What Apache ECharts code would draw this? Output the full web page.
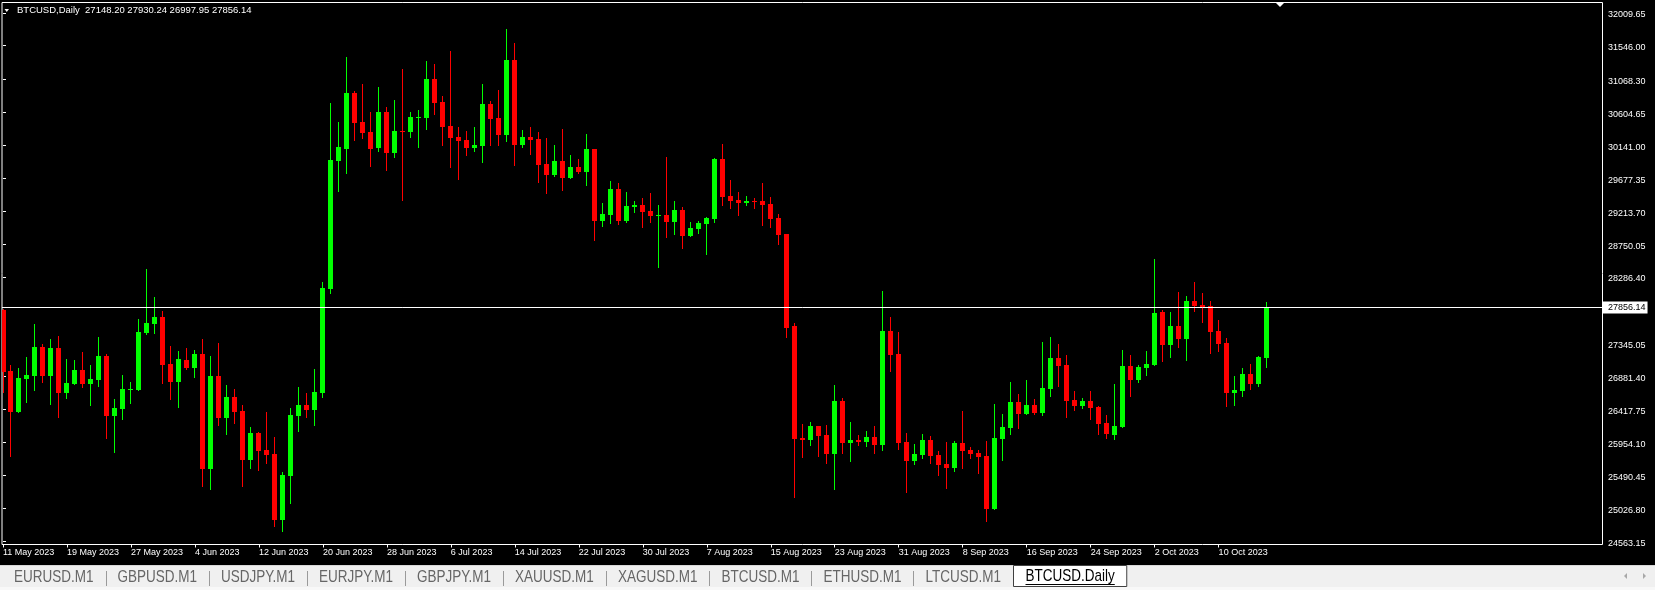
<!DOCTYPE html>
<html><head><meta charset="utf-8">
<script src="https://cdn.jsdelivr.net/npm/echarts@6.0.0/dist/echarts.min.js"></script>
<style>html,body{margin:0;padding:0;background:#000;}#chart{width:1655px;height:590px;}</style>
</head><body><div id="chart"></div>
<script>
const symbolName = 'BTCUSD,Daily';
const startDate = [2023, 4, 11]; // 11 May 2023 (month 0-based)
const monthNames = ['Jan','Feb','Mar','Apr','May','Jun','Jul','Aug','Sep','Oct','Nov','Dec'];

const opens = [27818,26958,26385,26850,26893,27297,26893,27283,26653,26775,
26972,26780,26836,27170,26329,26427,26695,26690,27499,27625,
27719,27057,26808,27113,27005,27198,25582,26888,26300,26592,
26395,25704,26084,25845,25788,24858,25478,26324,26479,26409,
26653,28114,29918,30087,30877,30468,30327,30101,30609,30031,
30346,30327,30529,30529,31074,30750,30412,30257,30214,30102,
30130,30722,30524,30285,31342,30144,30257,30228,29876,29721,
29918,29679,29834,29763,30087,29073,29157,29524,29073,29270,
29298,29214,29143,29157,29058,29228,28861,28960,29030,29101,
29946,29425,29369,29326,29354,29354,29312,29115,28889,27593,
26014,25986,26183,26056,25788,26535,25943,25986,25958,26028,
25915,27522,27198,25958,25690,25774,25986,25774,25647,25591,
25943,25845,25803,25760,25013,26000,26155,26521,26352,26479,
26366,26705,27142,27043,26550,26465,26535,26451,26225,26060,
26169,27029,26831,27001,27043,27790,27325,27593,27409,27945,
27888,27874,27522,27353,26648,26676,26916,26775,27148.20];

const highs = [27828,27043,27005,27160,27621,27339,27409,27452,27128,27113,
27226,27043,27438,27198,26564,26902,26803,27691,28405,28006,
27809,27311,27240,27287,27254,27409,27174,27353,26761,26714,
26479,26169,26103,26380,26028,25535,26437,26733,26648,26987,
28213,30736,30468,31384,30905,31004,30609,30961,30679,30778,
31215,30609,30637,31337,31285,30834,31469,30397,30341,30397,
31004,30764,30919,31779,31581,30355,30397,30327,30242,30144,
30369,30003,29946,30299,30090,29326,29636,29608,29481,29354,
29397,29467,29298,29975,29354,29270,29058,29073,29129,29961,
30158,29650,29481,29425,29397,29608,29411,29171,28895,27635,
26211,26239,26190,26197,26761,26578,26239,26056,26113,26183,
28086,27719,27508,26084,25929,26070,26042,25831,25958,25972,
26395,25887,25845,25972,26493,26352,26803,26634,26831,26564,
27367,27438,27339,27184,26676,26578,26676,26465,26338,26775,
27254,27184,27043,27240,28537,27818,27790,28072,28015,28213,
28058,27945,27677,27423,26888,27001,27057,27170,27930.24];

const lows = [26644,25751,26376,26512,26681,26794,26479,26301,26568,26761,
26723,26470,26738,26000,25807,26272,26493,26686,27466,27484,
26775,26554,26442,26982,26864,25328,25290,26188,26056,26216,
25328,25577,25549,25647,24760,24689,25084,26098,26296,26183,
26578,28044,29481,29735,30200,30228,29834,30045,29777,29960,
29354,30242,30101,30355,30567,30130,29824,29650,29989,30045,
29890,30130,30130,30186,29852,30102,30003,29608,29453,29693,
29495,29665,29735,29566,28791,28988,29030,29016,29044,29185,
28974,29044,28410,28833,28875,28678,28855,28889,28593,29044,
29284,29242,29143,29284,29242,29002,28974,28734,27423,25168,
25732,25901,25746,25648,25281,25788,25676,25901,25887,25788,
25831,26944,25845,25239,25633,25718,25647,25478,25295,25535,
25577,25718,25507,24830,24999,25690,26056,26141,26345,26345,
26324,26592,26733,26296,26394,26423,26268,26056,26000,25990,
26155,26592,26789,26888,27029,27085,27142,27283,27099,27790,
27635,27198,27226,26451,26465,26592,26690,26733,26997.95];

const closes = [26949,26385,26860,26902,27297,26893,27283,26653,26789,26972,
26780,26846,27170,26329,26437,26705,26705,27508,27635,27719,
27043,26808,27128,27001,27198,25582,26888,26300,26592,26385,
25704,26084,25831,25774,24858,25492,26338,26479,26409,26662,
28128,29932,30116,30877,30454,30313,30087,30609,30031,30341,
30332,30538,30538,31074,30740,30397,30242,30200,30102,30144,
30722,30510,30285,31342,30144,30257,30214,29862,29721,29918,
29679,29834,29763,30087,29073,29171,29524,29073,29284,29298,
29199,29143,29157,29058,29228,28861,28974,29044,29115,29946,
29411,29354,29326,29354,29340,29298,29101,28875,27564,25999,
25986,26183,26042,25788,26535,25943,25986,25958,26028,25915,
27522,27184,25943,25690,25788,25986,25760,25633,25591,25943,
25831,25788,25746,25013,26014,26169,26521,26352,26479,26366,
26719,27142,27029,26535,26465,26535,26437,26211,26070,26183,
27029,26831,27015,27057,27776,27325,27593,27409,27945,27874,
27860,27508,27339,26648,26690,26916,26775,27156,27856.14];

const priceTicks = [32009.65,31546.00,31068.30,30604.65,30141.00,29677.35,29213.70,28750.05,
28286.40,27345.05,26881.40,26417.75,25954.10,25490.45,25026.80,24563.15];
const dateLabelEvery = 8;

const tabNames = ['EURUSD.M1','GBPUSD.M1','USDJPY.M1','EURJPY.M1','GBPJPY.M1','XAUUSD.M1','XAGUSD.M1','BTCUSD.M1','ETHUSD.M1','LTCUSD.M1'];
const activeTab = 'BTCUSD.Daily';

// ---- derived ----
const dates = opens.map((_, i) => {
  const d = new Date(Date.UTC(startDate[0], startDate[1], startDate[2] + i));
  return d.getUTCDate() + ' ' + monthNames[d.getUTCMonth()] + ' ' + d.getUTCFullYear();
});
const labelIdx = [];
for (let i = 0; i < dates.length; i += dateLabelEvery) labelIdx.push(i);
const candleData = opens.map((o, i) => [i, o, highs[i], lows[i], closes[i]]);
const last = opens.length - 1;
const lastPrice = closes[last];
const titleText = symbolName + '  ' + [opens[last], highs[last], lows[last], closes[last]].map(v => v.toFixed(2)).join(' ');

const UP = '#00ff00', DOWN = '#ff0000';
function renderCandle(params, api) {
  const i = api.value(0), o = api.value(1), h = api.value(2), l = api.value(3), c = api.value(4);
  const pO = api.coord([i, o]), pC = api.coord([i, c]), pH = api.coord([i, h]), pL = api.coord([i, l]);
  const col = c >= o ? UP : DOWN;
  let top = Math.round(Math.min(pO[1], pC[1])), bot = Math.round(Math.max(pO[1], pC[1]));
  if (bot - top < 1) bot = top + 1;
  const wt = Math.min(Math.round(pH[1]), top), wb = Math.max(Math.round(pL[1]), bot);
  const xl = Math.round(pO[0] - 0.5);
  return { type: 'group', children: [
    { type: 'rect', shape: { x: xl, y: wt, width: 1, height: wb - wt }, style: { fill: col } },
    { type: 'rect', shape: { x: xl - 2, y: top, width: 5, height: bot - top }, style: { fill: col } }
  ]};
}

// tabs layout
const tabFont = '13.5px "Liberation Sans"';
const mctx = document.createElement('canvas').getContext('2d');
mctx.font = tabFont;
const tabPad = 24;
const graphics = [];
graphics.push({ type: 'rect', silent: true, shape: { x: 0, y: 566, width: 1655, height: 24 }, style: { fill: '#f0f0f0' } });
graphics.push({ type: 'rect', silent: true, shape: { x: 0, y: 565, width: 1655, height: 1 }, style: { fill: '#d8d8d8' } });
graphics.push({ type: 'rect', silent: true, shape: { x: 0, y: 587, width: 1655, height: 3 }, style: { fill: '#f8f8f8' } });
let tx = 2;
tabNames.forEach((name, k) => {
  const w = mctx.measureText(name).width;
  graphics.push({ type: 'text', silent: true, x: tx + 12, y: 577.5, scaleY: 1.18, style: { text: name, fill: '#666666', font: tabFont, verticalAlign: 'middle', align: 'left' } });
  tx += w + tabPad;
  if (k < tabNames.length - 1) {
    const sx = Math.round(tx) + 0.5;
    graphics.push({ type: 'line', silent: true, shape: { x1: sx, y1: 571, x2: sx, y2: 586 }, style: { stroke: '#9a9a9a', lineWidth: 1 } });
  }
});
const aw = mctx.measureText(activeTab).width;
const ax = Math.round(tx) + 0.5;
graphics.push({ type: 'rect', silent: true, shape: { x: ax, y: 565.5, width: aw + 24, height: 21 }, style: { fill: '#ffffff', stroke: '#404040', lineWidth: 1 } });
graphics.push({ type: 'text', silent: true, x: ax + 12, y: 577, scaleY: 1.18, style: { text: activeTab, fill: '#000', font: tabFont, verticalAlign: 'middle', align: 'left' } });
graphics.push({ type: 'line', silent: true, shape: { x1: ax + 12, y1: 584.5, x2: ax + 12 + aw, y2: 584.5 }, style: { stroke: '#000', lineWidth: 1 } });
// scroll arrows
graphics.push({ type: 'polygon', silent: true, shape: { points: [[1627, 573], [1627, 579], [1624, 576]] }, style: { fill: '#a8a8a8' } });
graphics.push({ type: 'polygon', silent: true, shape: { points: [[1643, 573], [1643, 579], [1646, 576]] }, style: { fill: '#a8a8a8' } });
// title
graphics.push({ type: 'polygon', silent: true, shape: { points: [[4.5, 9], [9, 9], [6.75, 12]] }, style: { fill: '#ffffff' } });
graphics.push({ type: 'text', silent: true, x: 17, y: 10.5, style: { text: titleText, fill: '#ffffff', font: '9.5px "Liberation Sans"', verticalAlign: 'middle', align: 'left' } });
// chart shift marker
graphics.push({ type: 'polygon', silent: true, shape: { points: [[1275.5, 2.5], [1284.5, 2.5], [1280, 7]] }, style: { fill: '#ffffff' } });

const chart = echarts.init(document.getElementById('chart'), null, { renderer: 'canvas' });
chart.setOption({
  backgroundColor: '#000',
  animation: false,
  grid: { left: 1.5, right: 52.5, top: 2.5, bottom: 45.5, show: true, borderColor: '#ffffff', borderWidth: 1, backgroundColor: 'transparent' },
  xAxis: {
    type: 'value', min: -0.125, max: 200,
    axisLine: { show: false }, splitLine: { show: false },
    axisTick: { show: true, customValues: labelIdx, length: 3, inside: false, lineStyle: { color: '#ffffff', width: 1 } },
    axisLabel: { show: true, customValues: labelIdx, formatter: v => dates[v] || '', color: '#ffffff', fontSize: 9, fontFamily: 'Liberation Sans', align: 'left', margin: 3.5 }
  },
  yAxis: {
    type: 'value', position: 'right', min: 24515.6, max: 32155.1, scale: true,
    axisLine: { show: false }, splitLine: { show: false },
    axisTick: { show: true, customValues: priceTicks, length: 3, inside: false, lineStyle: { color: '#ffffff', width: 1 } },
    axisLabel: { show: true, customValues: priceTicks, formatter: v => Number(v).toFixed(2), color: '#ffffff', fontSize: 9, fontFamily: 'Liberation Sans', margin: 5.5, verticalAlign: 'top', lineHeight: 4 }
  },
  graphic: graphics,
  series: [{
    type: 'custom', name: 'BTCUSD', clip: true,
    renderItem: renderCandle,
    encode: { x: 0, y: [1, 2, 3, 4] },
    data: candleData,
    markLine: {
      silent: true, animation: false, symbol: ['none', 'none'],
      lineStyle: { color: '#ffffff', width: 1, type: 'solid' },
      label: { show: true, position: 'end', formatter: lastPrice.toFixed(2), color: '#000', backgroundColor: '#ffffff', padding: [2, 2, 1, 5], fontSize: 9, fontFamily: 'Liberation Sans', distance: 0.5 },
      emphasis: { disabled: true },
      data: [{ yAxis: lastPrice }]
    }
  }]
});
</script></body></html>
